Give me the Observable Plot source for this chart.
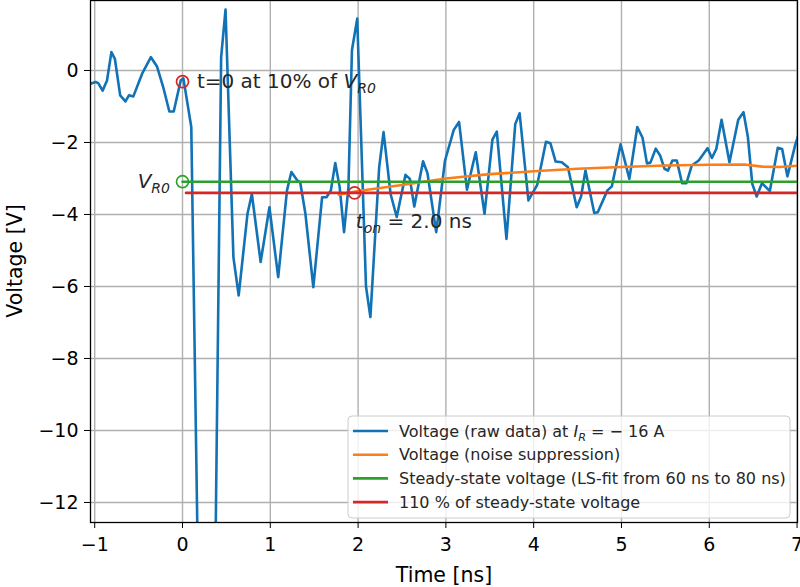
<!DOCTYPE html>
<html><head><meta charset="utf-8">
<script src="https://cdn.jsdelivr.net/npm/d3@7"></script>
<script src="https://cdn.jsdelivr.net/npm/@observablehq/plot@0.6"></script>
<style>body{margin:0;background:#fff} svg{display:block}</style>
</head><body><div id="chart"></div>
<script>
// ---- data ----
const rawTime = [-1.05,-0.99,-0.96,-0.91,-0.86,-0.81,-0.77,-0.71,-0.65,-0.61,-0.56,-0.46,-0.36,-0.29,-0.22,-0.15,-0.10,-0.02,0.01,0.10,0.18,0.37,0.44,0.49,0.58,0.64,0.74,0.79,0.89,0.99,1.09,1.19,1.24,1.31,1.34,1.40,1.49,1.59,1.64,1.69,1.74,1.79,1.84,1.89,1.93,1.99,2.09,2.14,2.24,2.29,2.37,2.44,2.54,2.59,2.64,2.74,2.79,2.89,2.99,3.09,3.15,3.24,3.34,3.44,3.53,3.58,3.69,3.79,3.84,3.94,4.04,4.14,4.19,4.25,4.32,4.39,4.49,4.54,4.59,4.69,4.73,4.84,4.89,4.99,5.09,5.18,5.24,5.29,5.33,5.39,5.44,5.49,5.53,5.58,5.63,5.69,5.74,5.80,5.88,5.98,6.03,6.08,6.14,6.23,6.33,6.39,6.44,6.49,6.54,6.60,6.69,6.78,6.83,6.89,6.98,7.04];
const rawVoltage = [-0.37,-0.32,-0.35,-0.56,-0.28,0.51,0.32,-0.69,-0.86,-0.69,-0.72,-0.09,0.37,0.11,-0.46,-1.14,-1.14,-0.27,-0.22,-1.57,-14.5,-14.5,0.37,1.69,-5.19,-6.25,-3.98,-3.43,-5.32,-3.80,-5.74,-3.33,-2.82,-3.06,-3.10,-3.98,-6.02,-3.52,-3.52,-3.33,-2.57,-3.24,-4.49,-3.24,0.56,1.44,-6.0,-6.85,-2.69,-1.71,-3.43,-4.07,-2.90,-3.01,-3.78,-2.52,-2.85,-4.49,-2.50,-1.65,-1.43,-3.31,-2.27,-3.98,-1.92,-1.70,-4.68,-1.49,-1.19,-3.61,-3.18,-1.98,-2.02,-2.53,-2.55,-2.69,-3.80,-3.50,-2.78,-3.96,-3.94,-3.33,-3.22,-2.05,-3.01,-1.57,-1.87,-2.58,-2.56,-2.17,-2.36,-2.73,-2.78,-2.50,-2.50,-3.13,-3.13,-2.64,-2.50,-2.16,-2.43,-2.18,-1.37,-2.55,-1.37,-1.16,-1.85,-3.15,-3.50,-3.13,-3.35,-2.15,-2.18,-2.94,-2.06,-1.60];
const smoothTime = [1.78,2.0,2.5,3.0,3.5,4.0,4.5,5.0,5.5,6.0,6.4,6.6,6.8,7.05];
const smoothVoltage = [-3.45,-3.35,-3.18,-3.0,-2.88,-2.80,-2.73,-2.68,-2.64,-2.62,-2.61,-2.67,-2.68,-2.64];
const steadyTime = [0, 7.05];
const steadyVoltage = [-3.09, -3.09];
const thresholdTime = [0.04, 7.05];
const thresholdVoltage = [-3.40, -3.40];
const markerTime = [0, 0, 1.96];
const markerVoltage = [-0.31, -3.09, -3.40];
const markerKind = ["t0", "vr0", "ton"];
const xTicks = [-1,0,1,2,3,4,5,6,7];
const yTicks = [0,-2,-4,-6,-8,-10,-12];
const legendLabels = ["raw", "smooth", "steady", "threshold"];

const C = {blue:"#1172b6", orange:"#fa7f1a", green:"#2ca02c", red:"#d62728"};
const raw = rawTime.map((t,i)=>({t, v: rawVoltage[i]}));
const smooth = smoothTime.map((t,i)=>({t, v: smoothVoltage[i]}));
const steady = steadyTime.map((t,i)=>({t, v: steadyVoltage[i]}));
const thr = thresholdTime.map((t,i)=>({t, v: thresholdVoltage[i]}));
const markers = markerTime.map((t,i)=>({t, v: markerVoltage[i], c: markerKind[i]==="vr0" ? C.green : C.red}));
const fmt = d3.format("d");
const FONT = "DejaVu Sans";

const plot = Plot.plot({
  width: 800, height: 587,
  marginLeft: 90, marginRight: 3, marginTop: 0, marginBottom: 65,
  x: {domain: [-1.048, 7.005]},
  y: {domain: [-12.556, 1.944]},
  style: {fontFamily: FONT, background: "white", color: "black"},
  marks: [
    Plot.gridX(xTicks, {stroke: "#b0b0b0", strokeOpacity: 1, strokeWidth: 1.4}),
    Plot.gridY(yTicks, {stroke: "#b0b0b0", strokeOpacity: 1, strokeWidth: 1.4}),
    Plot.line(raw, {x: "t", y: "v", stroke: C.blue, strokeWidth: 2.6, clip: true}),
    Plot.line(smooth, {x: "t", y: "v", stroke: C.orange, strokeWidth: 2.6, clip: true}),
    Plot.line(steady, {x: "t", y: "v", stroke: C.green, strokeWidth: 2.6, clip: true}),
    Plot.line(thr, {x: "t", y: "v", stroke: C.red, strokeWidth: 2.6, clip: true}),
    Plot.dot(markers, {x: "t", y: "v", r: 6, stroke: "c", fill: "none", strokeWidth: 1.7}),
    Plot.frame({stroke: "black", strokeWidth: 1.3}),
    Plot.axisX(xTicks, {tickSize: 6, tickPadding: 9, fontSize: 19, label: null, tickFormat: fmt}),
    Plot.axisY(yTicks, {tickSize: 6, tickPadding: 6, fontSize: 19, label: null, tickFormat: fmt})
  ]
});
document.getElementById("chart").appendChild(plot);

const svg = d3.select(plot);
const sx = plot.scale("x").apply, sy = plot.scale("y").apply;

function richText(g, x, y, parts, size, anchor) {
  const t = g.append("text").attr("x", x).attr("y", y)
    .attr("font-family", FONT).attr("font-size", size).attr("fill", "#262626")
    .attr("text-anchor", anchor || "start");
  parts.forEach(p => {
    const s = t.append("tspan").text(p.text);
    if (p.italic) s.attr("font-style", "italic");
    if (p.sub) s.attr("font-size", size * 0.7).attr("dy", size * 0.25);
    if (p.unsub) s.attr("dy", -size * 0.25);
  });
  return t;
}

const ann = svg.append("g");
richText(ann, sx(0.17), sy(-0.31) + 7, [
  {text: "t=0 at 10% of "}, {text: "V", italic: true}, {text: "R0", italic: true, sub: true}
], 20);
richText(ann, sx(0) - 12, sy(-3.09) + 7, [
  {text: "V", italic: true}, {text: "R0", italic: true, sub: true}
], 20, "end");
richText(ann, sx(1.98), sy(-3.40) + 36, [
  {text: "t", italic: true}, {text: "on", italic: true, sub: true}, {text: " = 2.0 ns", unsub: true}
], 20);

// axis labels
svg.append("text").attr("x", 444).attr("y", 582).attr("text-anchor", "middle")
  .attr("font-family", FONT).attr("font-size", 20.5).attr("fill", "black").text("Time [ns]");
svg.append("text").attr("transform", "translate(22,261) rotate(-90)").attr("text-anchor", "middle")
  .attr("font-family", FONT).attr("font-size", 20.5).attr("fill", "black").text("Voltage [V]");

// legend
const lg = svg.append("g");
lg.append("rect").attr("x", 348).attr("y", 416).attr("width", 442).attr("height", 102).attr("rx", 4)
  .attr("fill", "white").attr("fill-opacity", 0.8).attr("stroke", "#cccccc").attr("stroke-width", 1);
const legendParts = {
  raw: [{text: "Voltage (raw data) at "}, {text: "I", italic: true}, {text: "R", italic: true, sub: true}, {text: " = − 16 A", unsub: true}],
  smooth: [{text: "Voltage (noise suppression)"}],
  steady: [{text: "Steady-state voltage (LS-fit from 60 ns to 80 ns)"}],
  threshold: [{text: "110 % of steady-state voltage"}]
};
const legendColors = {raw: C.blue, smooth: C.orange, steady: C.green, threshold: C.red};
legendLabels.forEach((k, i) => {
  const yy = 431 + i * 23.7;
  lg.append("line").attr("x1", 353).attr("x2", 388).attr("y1", yy).attr("y2", yy)
    .attr("stroke", legendColors[k]).attr("stroke-width", 2.6);
  richText(lg, 399, yy + 5.5, legendParts[k], 16);
});
</script>
</body></html>
